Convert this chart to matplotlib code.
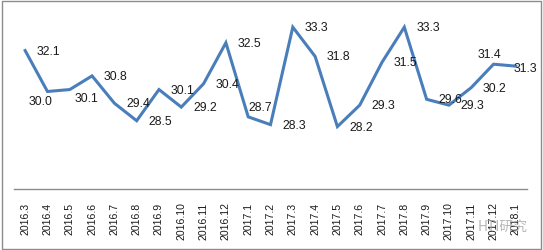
import matplotlib
matplotlib.use("Agg")
import matplotlib.pyplot as plt
from matplotlib.patches import Rectangle

plt.rcParams["font.family"] = ["Liberation Sans", "Noto Sans CJK SC", "DejaVu Sans"]

# ── data ──────────────────────────────────────────────────────────────────────
months = ["2016.3", "2016.4", "2016.5", "2016.6", "2016.7", "2016.8", "2016.9",
          "2016.10", "2016.11", "2016.12", "2017.1", "2017.2", "2017.3", "2017.4",
          "2017.5", "2017.6", "2017.7", "2017.8", "2017.9", "2017.10", "2017.11",
          "2017.12", "2018.1"]
values = [32.1, 30.0, 30.1, 30.8, 29.4, 28.5, 30.1, 29.2, 30.4, 32.5, 28.7, 28.3,
          33.3, 31.8, 28.2, 29.3, 31.5, 33.3, 29.6, 29.3, 30.2, 31.4, 31.3]

# label offsets in points (x, y); most sit to the right of the point
label_offsets = [(17, 0)] * len(values)
label_offsets[1] = (-5, -7)
label_offsets[2] = (12, -6)
label_offsets[10] = (9, 7)
label_offsets[21] = (-3, 7)
label_offsets[22] = (7, -1)

# ── figure ────────────────────────────────────────────────────────────────────
fig = plt.figure(figsize=(5.43, 2.51), dpi=100)
ax = fig.add_axes([14 / 543, 61 / 251, 513 / 543, 175.5 / 251])

x = range(len(months))
ax.plot(x, values, color="#4a7ebb", lw=2.2, solid_joinstyle="miter")

for i, v in enumerate(values):
    dx, dy = label_offsets[i]
    ax.annotate(f"{v:.1f}", (i, v), xytext=(dx, dy), textcoords="offset points",
                ha="center", va="center", fontsize=8.8, color="#1a1a1a")

ax.set_xlim(-0.5, len(months) - 0.5)
ax.set_ylim(25, 34)
ax.set_xticks(list(x))
ax.set_xticklabels(months, rotation=90, fontsize=7.6, color="#1a1a1a")
ax.tick_params(axis="x", length=0, pad=9)
ax.set_yticks([])
for s in ["top", "right", "left"]:
    ax.spines[s].set_visible(False)
ax.spines["bottom"].set_color("#8c8c8c")
ax.spines["bottom"].set_linewidth(1.0)

# outer chart border
fig.patches.append(Rectangle((0.003, 0.004), 0.994, 0.99, transform=fig.transFigure,
                             fill=False, edgecolor="#8c8c8c", lw=1.0))

# watermark
fig.text(0.88, 0.095, "HTI研究", fontsize=10, color="#a0a0a0", alpha=0.75,
         ha="left", va="center", family=["Noto Sans CJK SC", "DejaVu Sans"])

fig.savefig("out.png", dpi=100)
